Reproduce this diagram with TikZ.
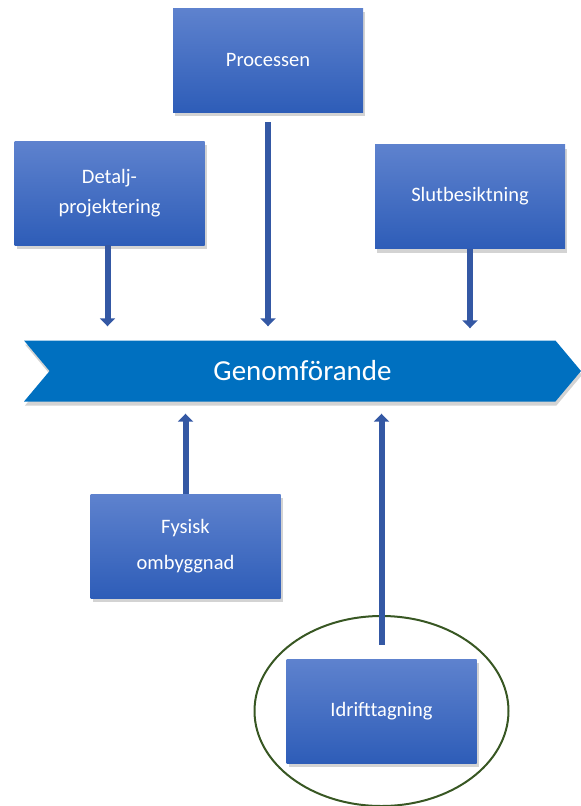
\documentclass[tikz,border=0pt]{standalone}
\usepackage{fontspec}
\setmainfont{Carlito}
\usetikzlibrary{shapes.symbols,shadows,arrows.meta}
\definecolor{boxtop}{RGB}{94,130,206}
\definecolor{boxbot}{RGB}{46,93,184}
\definecolor{bandblue}{RGB}{0,112,192}
\definecolor{pilblue}{RGB}{52,88,164}
\definecolor{ringgreen}{RGB}{56,87,35}
\begin{document}
\begin{tikzpicture}[x=1pt,y=-1pt,
    steg/.style={rectangle, minimum width=190pt, minimum height=104pt, inner sep=0pt,
      top color=boxtop, bottom color=boxbot, text=white, align=center,
      font=\fontsize{20.5}{30}\selectfont,
      drop shadow={opacity=0.35, shadow xshift=2pt, shadow yshift=-4pt}},
    band/.style={signal, signal to=east, signal from=west, signal pointer angle=100,
      minimum width=557pt, minimum height=61pt, inner sep=0pt, fill=bandblue, text=white,
      font=\fontsize{29}{32}\selectfont,
      drop shadow={opacity=0.35, shadow xshift=1pt, shadow yshift=-4pt}},
    pil/.style={draw=pilblue, line width=6pt, -{Triangle[width=15pt,length=8pt]}},
    ring/.style={draw=ringgreen, line width=2pt}]
        \useasboundingbox (0,0) rectangle (581,806);

        \node[band] (gen) at (302.5,371) {Genomförande};

        \node[steg] (proc)   at (268,60)    {Processen};
        \node[steg] (detalj) at (109.5,193) {Detalj-\\projektering};
        \node[steg] (slut)   at (470,196.5) {Slutbesiktning};
        \node[steg] (fysisk) at (185.5,546) {Fysisk\\[6pt]ombyggnad};
        \node[steg] (idrift) at (381.5,711) {Idrifttagning};

        \draw[ring] (idrift.center) ellipse [x radius=127, y radius=95];

        \draw[pil, shorten <=10pt, shorten >=14pt] (proc.south) -- (proc.south |- gen.north);
        \draw[pil, shorten >=14pt] ([xshift=-2pt]detalj.south) -- ([xshift=-2pt]detalj.south |- gen.north);
        \draw[pil, shorten >=12pt] (slut.south) -- (slut.south |- gen.north);
        \draw[pil, shorten >=12pt] (fysisk.north) -- (fysisk.north |- gen.south);
        \draw[pil, shorten <=14pt, shorten >=12pt] (idrift.north) -- (idrift.north |- gen.south);
      \end{tikzpicture}
\end{document}
